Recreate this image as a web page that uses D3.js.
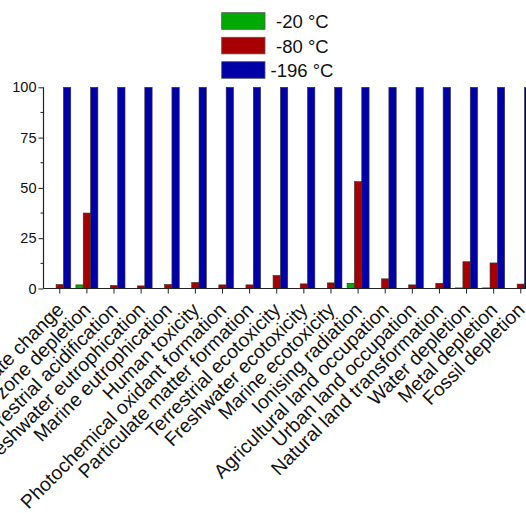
<!DOCTYPE html>
<html>
<head>
<meta charset="utf-8">
<script src="https://cdn.jsdelivr.net/npm/d3@7"></script>
<style>
  html, body { margin: 0; padding: 0; background: #fff; }
  svg { display: block; font-family: Arial, "Liberation Sans", sans-serif; }
</style>
</head>
<body>
<svg id="chart" width="526" height="513"></svg>
<script>
const categories = ["Climate change","Ozone depletion","Terrestrial acidification","Freshwater eutrophication","Marine eutrophication","Human toxicity","Photochemical oxidant formation","Particulate matter formation","Terrestrial ecotoxicity","Freshwater ecotoxicity","Marine ecotoxicity","Ionising radiation","Agricultural land occupation","Urban land occupation","Natural land transformation","Water depletion","Metal depletion","Fossil depletion"];
const seriesNames = ["-20 °C", "-80 °C", "-196 °C"];
const valuesMinus20 = [0, 1.8, 0, 0, 0, 0, 0, 0, 0, 0, 0, 2.6, 0, 0, 0, 0.3, 0.3, 0];
const valuesMinus80 = [2.0, 37.5, 1.5, 1.3, 2.0, 3.0, 1.8, 1.8, 6.5, 2.3, 2.8, 53.1, 4.8, 1.8, 2.6, 13.3, 12.7, 2.2];
const valuesMinus196 = [100, 100, 100, 100, 100, 100, 100, 100, 100, 100, 100, 100, 100, 100, 100, 100, 100, 100];
const yTicks = [0, 25, 50, 75, 100];
const yMinorTicks = [12.5, 37.5, 62.5, 87.5];
const colors = ["#00aa00", "#a80000", "#0000a8"];

const seriesValues = [valuesMinus20, valuesMinus80, valuesMinus196];
const svg = d3.select("#chart");

const x0 = 43.5, yBase = 288.5, yTop = 87.3, step = 27.12;
const x = d3.scaleBand().domain(categories)
  .range([x0, x0 + step * 18.2]).paddingInner(0).paddingOuter(0.1);
const xs = d3.scaleBand().domain(seriesNames).range([-11, 11]).padding(0);
const y = d3.scaleLinear().domain([0, 100]).range([yBase, yTop]);

const cx = c => x(c) + x.bandwidth() / 2;

// bars
seriesNames.forEach((s, si) => {
  svg.append("g").selectAll("rect")
    .data(categories.map((c, i) => ({ c, v: seriesValues[si][i] })))
    .join("rect")
    .attr("x", d => cx(d.c) + xs(s))
    .attr("width", xs.bandwidth())
    .attr("y", d => y(d.v))
    .attr("height", d => yBase - y(d.v))
    .attr("fill", colors[si])
    .attr("stroke", "#333")
    .attr("stroke-width", 0.6);
});

// y axis
const yAxis = d3.axisLeft(y).tickValues(yTicks).tickSize(5).tickPadding(2);
const gy = svg.append("g").attr("transform", `translate(${x0},0)`).call(yAxis);
gy.select(".domain").remove();
gy.selectAll("line").attr("stroke", "#222");
gy.selectAll("text").attr("font-size", 14.5).attr("fill", "#111")
  .attr("font-family", "Arial, 'Liberation Sans', sans-serif");
svg.append("g").selectAll("line").data(yMinorTicks).join("line")
  .attr("x1", x0 - 3).attr("x2", x0).attr("y1", d => y(d)).attr("y2", d => y(d))
  .attr("stroke", "#222");
svg.append("line").attr("x1", x0).attr("x2", x0).attr("y1", yTop).attr("y2", yBase)
  .attr("stroke", "#222").attr("stroke-width", 1.2);

// x axis
svg.append("line").attr("x1", x0).attr("x2", 526).attr("y1", yBase).attr("y2", yBase)
  .attr("stroke", "#222").attr("stroke-width", 1.2);
svg.append("g").selectAll("line").data(categories).join("line")
  .attr("x1", d => cx(d)).attr("x2", d => cx(d))
  .attr("y1", yBase).attr("y2", yBase + 5).attr("stroke", "#222");
svg.append("g").selectAll("text").data(categories).join("text")
  .attr("transform", d => `translate(${cx(d) + 5},311) rotate(-45)`)
  .attr("text-anchor", "end")
  .attr("font-size", 19.4)
  .attr("fill", "#111")
  .text(d => d);

// legend
const legendY = [12.7, 37.3, 61.7];
const legendTextX = [276, 276, 270.5];
const lg = svg.append("g");
seriesNames.forEach((s, i) => {
  lg.append("rect").attr("x", 221.7).attr("y", legendY[i]).attr("width", 43.3).attr("height", 16.6)
    .attr("fill", colors[i]).attr("stroke", "#555").attr("stroke-width", 0.8);
  lg.append("text").attr("x", legendTextX[i]).attr("y", legendY[i] + 15.5)
    .attr("font-size", 18.5).attr("fill", "#111").text(s);
});
</script>
</body>
</html>
